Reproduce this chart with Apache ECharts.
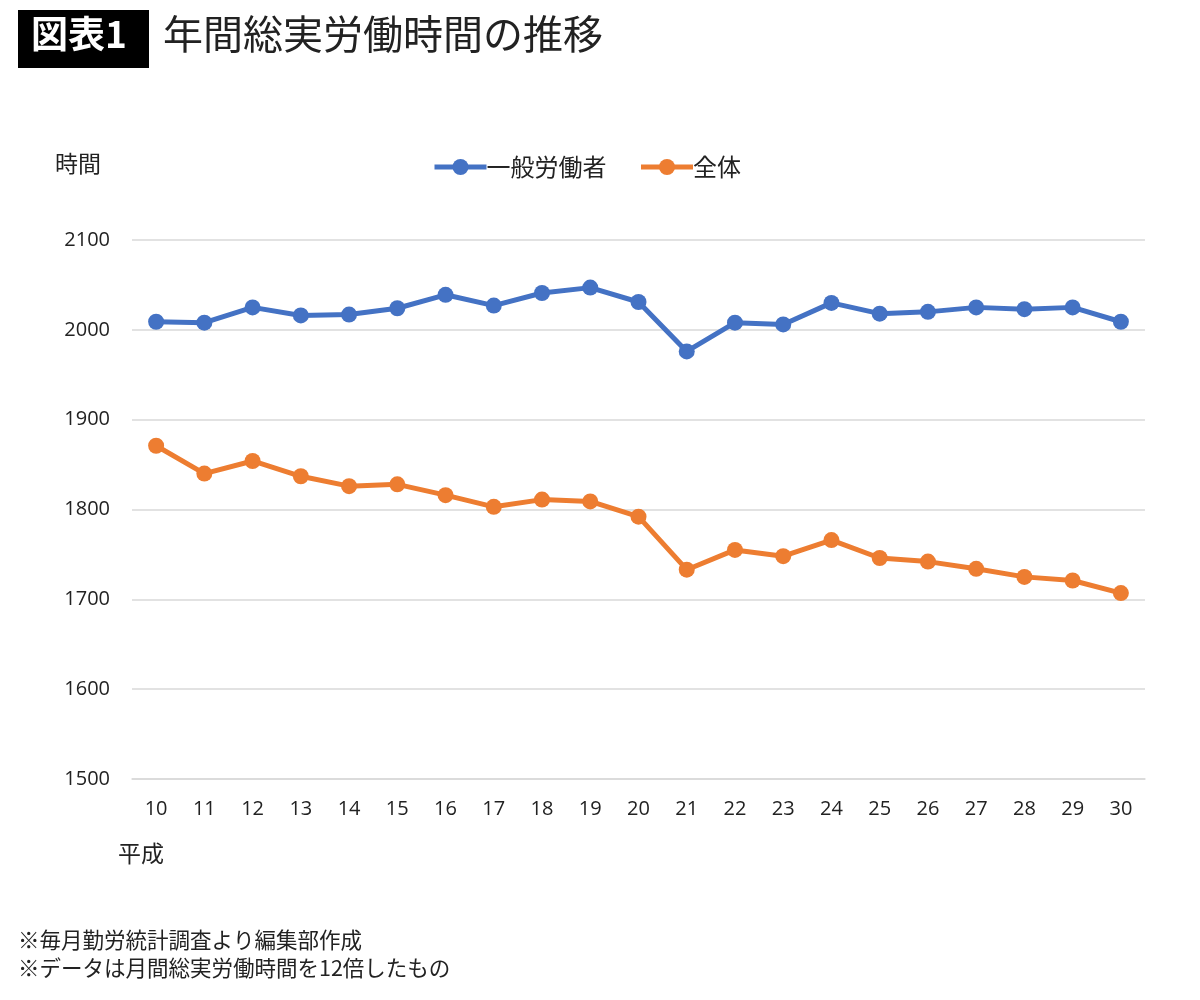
<!DOCTYPE html>
<html><head><meta charset="utf-8">
<script src="https://cdn.jsdelivr.net/npm/echarts@6/dist/echarts.min.js"></script>
<style>html,body{margin:0;padding:0;background:#fff}#c{width:1200px;height:1000px}</style>
</head><body><div id="c"></div>
<script>
const categories = ['10','11','12','13','14','15','16','17','18','19','20','21','22','23','24','25','26','27','28','29','30'];
const generalWorkers = [2009,2008,2025,2016,2017,2024,2039,2027,2041,2047,2031,1976,2008,2006,2030,2018,2020,2025,2023,2025,2009];
const allWorkers = [1871,1840,1854,1837,1826,1828,1816,1803,1811,1809,1792,1733,1755,1748,1766,1746,1742,1734,1725,1721,1707];
const seriesNames = ['一般労働者','全体'];
const yTicks = {min:1500, max:2100, interval:100};

const FONT = '"Noto Sans CJK JP", "Noto Sans", sans-serif';
const NUMFONT = '"Open Sans", sans-serif';
const chart = echarts.init(document.getElementById('c'), null, {renderer:'canvas'});
chart.setOption({
  backgroundColor:'#fff',
  animation:false,
  textStyle:{fontFamily:FONT},
  graphic:[
    {type:'rect', shape:{x:18,y:10,width:131,height:58}, style:{fill:'#000'}},
    {type:'text', left:31, top:15, style:{text:'図表1', fill:'#fff', font:'bold 37px '+FONT}},
    {type:'text', left:163, top:14, style:{text:'年間総実労働時間の推移', fill:'#222', font:'400 40px '+FONT}},
    {type:'text', left:55, top:152, style:{text:'時間', fill:'#222', font:'23px '+FONT}},
    {type:'text', left:118, top:842, style:{text:'平成', fill:'#222', font:'23px '+FONT}},
    {type:'text', left:18, top:929, style:{text:'※毎月勤労統計調査より編集部作成', fill:'#222', font:'21.5px '+FONT}},
    {type:'text', left:18, top:957, style:{text:'※データは月間総実労働時間を12倍したもの', fill:'#222', font:'21.5px '+FONT}}
  ],
  legend:{
    top:150, left:427,
    itemWidth:52, itemHeight:20, itemGap:32,
    lineStyle:{width:5},
    textStyle:{fontSize:24, color:'#222', fontFamily:FONT, padding:[0,0,0,-5]},
    data:seriesNames
  },
  grid:{left:132, right:55, top:240, bottom:221, containLabel:false},
  xAxis:{
    type:'category', data:categories, boundaryGap:true,
    axisLine:{show:true, lineStyle:{color:'#d9d9d9', width:1.5}},
    axisTick:{show:false},
    axisLabel:{fontSize:20, color:'#222', margin:20, fontFamily:NUMFONT}
  },
  yAxis:{
    type:'value', min:yTicks.min, max:yTicks.max, interval:yTicks.interval,
    axisLine:{show:false}, axisTick:{show:false},
    splitLine:{lineStyle:{color:'#d9d9d9', width:1.5}},
    axisLabel:{fontSize:20, color:'#222', margin:22, fontFamily:NUMFONT, formatter:v=>String(v)}
  },
  series:[
    {name:seriesNames[0], type:'line', data:generalWorkers, symbol:'circle', symbolSize:16,
     itemStyle:{color:'#4472C4'}, lineStyle:{width:5, color:'#4472C4'}},
    {name:seriesNames[1], type:'line', data:allWorkers, symbol:'circle', symbolSize:16,
     itemStyle:{color:'#ED7D31'}, lineStyle:{width:5, color:'#ED7D31'}}
  ]
});
</script></body></html>
